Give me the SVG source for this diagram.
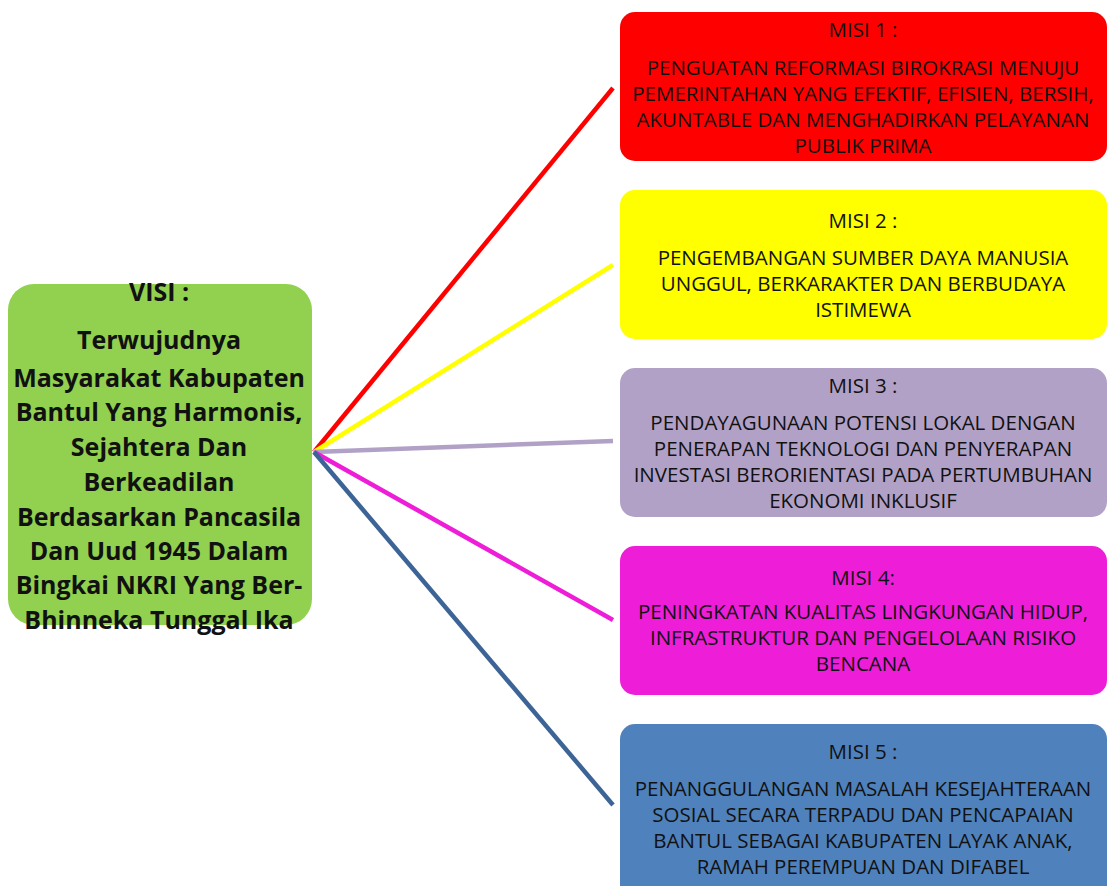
<svg xmlns="http://www.w3.org/2000/svg" width="1118" height="886" viewBox="0 0 1118 886">
<style>
.m{font-family:"Open Sans","Noto Sans",sans-serif;font-size:20.5px;fill:#111;text-anchor:middle}
.v{font-family:"Open Sans","Noto Sans",sans-serif;font-size:25px;font-weight:bold;fill:#111;text-anchor:middle}
.c{stroke-width:4.5;fill:none;stroke-linecap:butt}
</style>
<rect width="1118" height="886" fill="#fff"/>
<g id="connectors">
<line class="c" x1="314" y1="452" x2="613" y2="88" stroke="#ff0000"/>
<line class="c" x1="314" y1="452" x2="613" y2="265" stroke="#ffff00"/>
<line class="c" x1="314" y1="452" x2="613" y2="441" stroke="#b2a1c7"/>
<line class="c" x1="314" y1="452" x2="613" y2="620" stroke="#ee1ed8"/>
<line class="c" x1="314" y1="452" x2="613" y2="805" stroke="#3c6496"/>
</g>
<g id="visi">
<rect x="8" y="284" width="304" height="341" rx="26" fill="#92d050"/>
<text class="v" x="159" y="301">VISI :</text>
<text class="v" x="159" y="349">Terwujudnya</text>
<text class="v" x="159" y="387">Masyarakat Kabupaten</text>
<text class="v" x="159" y="421">Bantul Yang Harmonis,</text>
<text class="v" x="159" y="456">Sejahtera Dan</text>
<text class="v" x="159" y="491">Berkeadilan</text>
<text class="v" x="159" y="526">Berdasarkan Pancasila</text>
<text class="v" x="159" y="560">Dan Uud 1945 Dalam</text>
<text class="v" x="159" y="594">Bingkai NKRI Yang Ber-</text>
<text class="v" x="159" y="629">Bhinneka Tunggal Ika</text>
</g>
<g id="misi1">
<rect x="620" y="12" width="487" height="149" rx="15" fill="#ff0000"/>
<text class="m" x="863" y="37">MISI 1 :</text>
<text class="m" x="863" y="75">PENGUATAN REFORMASI BIROKRASI MENUJU</text>
<text class="m" x="863" y="101">PEMERINTAHAN YANG EFEKTIF, EFISIEN, BERSIH,</text>
<text class="m" x="863" y="127">AKUNTABLE DAN MENGHADIRKAN PELAYANAN</text>
<text class="m" x="863" y="153">PUBLIK PRIMA</text>
</g>
<g id="misi2">
<rect x="620" y="190" width="487" height="149" rx="15" fill="#ffff00"/>
<text class="m" x="863" y="228">MISI 2 :</text>
<text class="m" x="863" y="265">PENGEMBANGAN SUMBER DAYA MANUSIA</text>
<text class="m" x="863" y="291">UNGGUL, BERKARAKTER DAN BERBUDAYA</text>
<text class="m" x="863" y="317">ISTIMEWA</text>
</g>
<g id="misi3">
<rect x="620" y="368" width="487" height="149" rx="15" fill="#b2a1c7"/>
<text class="m" x="863" y="393">MISI 3 :</text>
<text class="m" x="863" y="430">PENDAYAGUNAAN POTENSI LOKAL DENGAN</text>
<text class="m" x="863" y="456">PENERAPAN TEKNOLOGI DAN PENYERAPAN</text>
<text class="m" x="863" y="482">INVESTASI BERORIENTASI PADA PERTUMBUHAN</text>
<text class="m" x="863" y="508">EKONOMI INKLUSIF</text>
</g>
<g id="misi4">
<rect x="620" y="546" width="487" height="149" rx="15" fill="#ee1ed8"/>
<text class="m" x="863" y="585">MISI 4:</text>
<text class="m" x="863" y="619">PENINGKATAN KUALITAS LINGKUNGAN HIDUP,</text>
<text class="m" x="863" y="645">INFRASTRUKTUR DAN PENGELOLAAN RISIKO</text>
<text class="m" x="863" y="671">BENCANA</text>
</g>
<g id="misi5">
<rect x="620" y="724" width="487" height="180" rx="15" fill="#4f81bd"/>
<text class="m" x="863" y="759">MISI 5 :</text>
<text class="m" x="863" y="796">PENANGGULANGAN MASALAH KESEJAHTERAAN</text>
<text class="m" x="863" y="822">SOSIAL SECARA TERPADU DAN PENCAPAIAN</text>
<text class="m" x="863" y="848">BANTUL SEBAGAI KABUPATEN LAYAK ANAK,</text>
<text class="m" x="863" y="874">RAMAH PEREMPUAN DAN DIFABEL</text>
</g>
</svg>
